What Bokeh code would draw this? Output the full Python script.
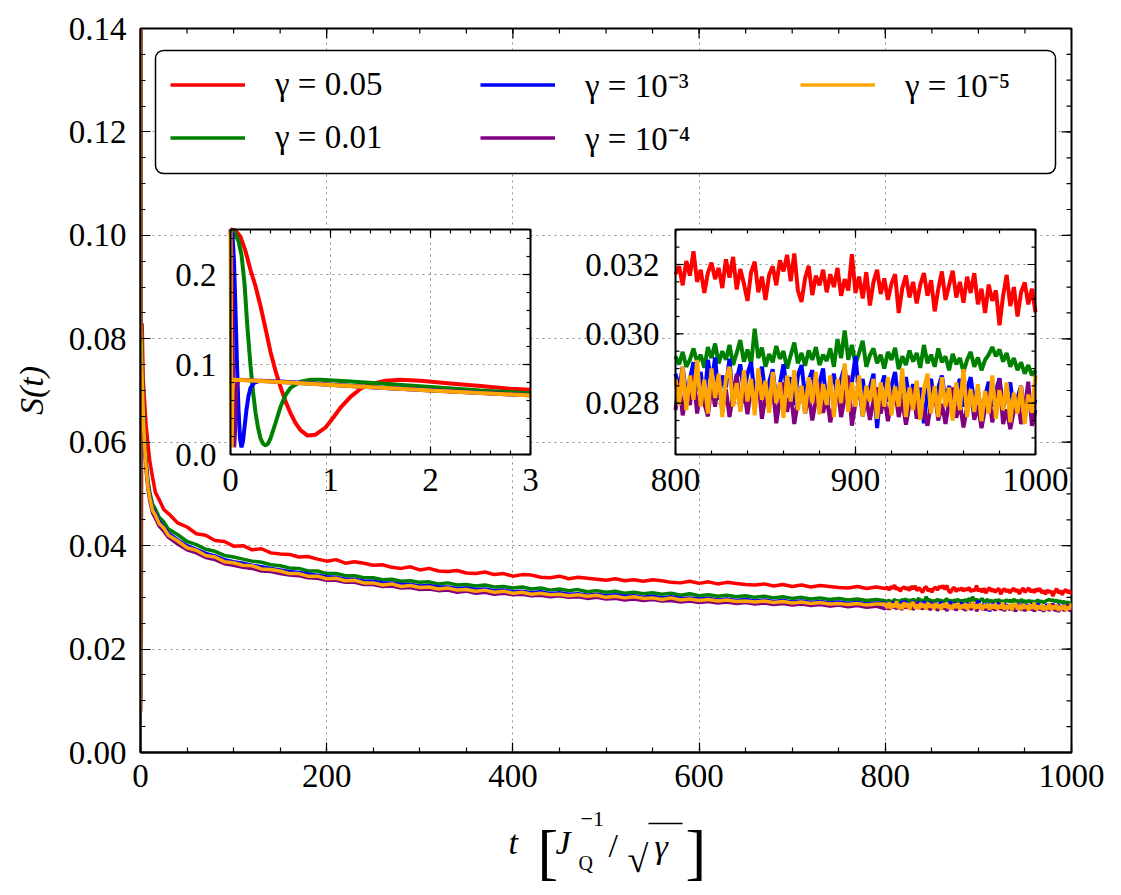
import math
from bokeh.plotting import figure
from bokeh.layouts import column
from bokeh.models import (Range1d, FixedTicker, PrintfTickFormatter, Legend, LegendItem,
                          BoxAnnotation)
from bokeh.core.properties import value
from bokeh.embed import file_html
from bokeh.resources import INLINE

# ------------------------------------------------------------------ data
LABELS = ["γ = 0.05", "γ = 0.01", "γ = 10⁻³", "γ = 10⁻⁴", "γ = 10⁻⁵"]
COLORS = ["#ff0000", "#008000", "#0000ff", "#800080", "#ffa500"]

# short-time behaviour (left inset), t in [0, 3]
t_early_005 = [0, 0.05, 0.1, 0.15, 0.2, 0.25, 0.3, 0.35, 0.4, 0.45, 0.5, 0.55, 0.6, 0.65, 0.7,
               0.77, 0.85, 0.95, 1.0, 1.1, 1.2, 1.3, 1.4, 1.55, 1.7, 1.9, 2.2, 2.5, 2.8, 3.0]
s_early_005 = [0.250, 0.249, 0.242, 0.226, 0.205, 0.187, 0.165, 0.140, 0.114, 0.093, 0.075, 0.059,
               0.046, 0.035, 0.027, 0.021, 0.022, 0.030, 0.037, 0.052, 0.064, 0.073, 0.078, 0.082,
               0.083, 0.082, 0.079, 0.076, 0.073, 0.072]
t_early_001 = [0, 0.04, 0.08, 0.11, 0.14, 0.17, 0.2, 0.225, 0.25, 0.275, 0.3, 0.325, 0.35, 0.375,
               0.4, 0.45, 0.5, 0.55, 0.6, 0.7, 0.8, 0.9, 1.2, 1.5, 2.0, 2.5, 3.0]
s_early_001 = [0.250, 0.247, 0.237, 0.222, 0.190, 0.140, 0.099, 0.070, 0.047, 0.030, 0.018, 0.012,
               0.010, 0.012, 0.018, 0.035, 0.053, 0.066, 0.074, 0.081, 0.083, 0.083, 0.081, 0.079,
               0.075, 0.071, 0.068]
t_early_1e3 = [0, 0.02, 0.035, 0.05, 0.065, 0.08, 0.095, 0.11, 0.125, 0.14, 0.16, 0.18, 0.2, 0.24,
               0.3, 0.5, 1.0, 1.5, 2.0, 2.5, 3.0]
s_early_1e3 = [0.250, 0.244, 0.215, 0.160, 0.100, 0.050, 0.018, 0.008, 0.015, 0.030, 0.050, 0.065,
               0.074, 0.080, 0.082, 0.081, 0.0776, 0.0743, 0.0713, 0.0685, 0.0658]
t_early_1e4 = [0, 0.008, 0.016, 0.024, 0.031, 0.037, 0.044, 0.052, 0.06, 0.075, 0.1, 0.5, 1.0, 1.5,
               2.0, 2.5, 3.0]
s_early_1e4 = [0.250, 0.235, 0.180, 0.100, 0.035, 0.008, 0.022, 0.055, 0.075, 0.082, 0.083, 0.0805,
               0.0774, 0.0742, 0.0712, 0.0684, 0.0657]
t_early_1e5 = [0, 0.003, 0.006, 0.009, 0.012, 0.015, 0.019, 0.025, 0.035, 0.5, 1.0, 1.5, 2.0, 2.5, 3.0]
s_early_1e5 = [0.250, 0.200, 0.110, 0.030, 0.008, 0.030, 0.068, 0.081, 0.083, 0.0805, 0.0773, 0.0741,
               0.0711, 0.0683, 0.0656]

# intermediate times, t in [4, 790]
t_mid = [4, 5, 6, 8, 10, 13, 16, 20, 25, 30, 40, 50, 60, 70, 80, 90, 100] + list(range(110, 800, 10))
s_mid_005 = [0.0690, 0.0662, 0.0633, 0.0597, 0.0563, 0.0532, 0.0503, 0.0489, 0.0470, 0.0462, 0.0444,
             0.0436, 0.0423, 0.0420, 0.0410, 0.0408, 0.0399,
             0.0400, 0.0392, 0.0394, 0.0386, 0.0384, 0.0383, 0.0378, 0.0379, 0.0374, 0.0370,
             0.0373, 0.0366, 0.0369, 0.0366, 0.0362, 0.0363, 0.0358, 0.0356, 0.0359, 0.0353,
             0.0356, 0.0351, 0.0350, 0.0352, 0.0347, 0.0346, 0.0349, 0.0344, 0.0346, 0.0341,
             0.0344, 0.0343, 0.0339, 0.0338, 0.0341, 0.0336, 0.0339, 0.0337, 0.0335, 0.0333,
             0.0336, 0.0332, 0.0334, 0.0331, 0.0334, 0.0332, 0.0329, 0.0328, 0.0331, 0.0327,
             0.0330, 0.0326, 0.0329, 0.0327, 0.0325, 0.0324, 0.0326, 0.0322, 0.0325, 0.0321,
             0.0324, 0.0320, 0.0323, 0.0321, 0.0319, 0.0318, 0.0321, 0.0317, 0.0320]
s_mid_001 = [0.0632, 0.0593, 0.0567, 0.0526, 0.0504, 0.0480, 0.0471, 0.0455, 0.0446, 0.0432, 0.0421,
             0.0408, 0.0402, 0.0393, 0.0389, 0.0381, 0.0378,
             0.0374, 0.0370, 0.0368, 0.0363, 0.0361, 0.0357, 0.0356, 0.0351, 0.0351, 0.0346,
             0.0346, 0.0342, 0.0342, 0.0338, 0.0338, 0.0334, 0.0335, 0.0331, 0.0332, 0.0329,
             0.0330, 0.0326, 0.0328, 0.0324, 0.0325, 0.0322, 0.0324, 0.0320, 0.0321, 0.0318,
             0.0320, 0.0316, 0.0318, 0.0314, 0.0316, 0.0313, 0.0315, 0.0311, 0.0313, 0.0310,
             0.0312, 0.0308, 0.0310, 0.0307, 0.0309, 0.0306, 0.0308, 0.0304, 0.0307, 0.0303,
             0.0305, 0.0302, 0.0304, 0.0301, 0.0303, 0.0300, 0.0302, 0.0299, 0.0301, 0.0298,
             0.0300, 0.0297, 0.0299, 0.0296, 0.0298, 0.0295, 0.0297, 0.0294, 0.0296]
s_mid_1e3 = [0.0620, 0.0584, 0.0556, 0.0518, 0.0495, 0.0472, 0.0462, 0.0447, 0.0436, 0.0424, 0.0411,
             0.0400, 0.0393, 0.0385, 0.0380, 0.0373, 0.0369,
             0.0366, 0.0362, 0.0359, 0.0356, 0.0353, 0.0350, 0.0348, 0.0345, 0.0343, 0.0340,
             0.0339, 0.0335, 0.0335, 0.0331, 0.0331, 0.0328, 0.0328, 0.0325, 0.0325, 0.0322,
             0.0323, 0.0320, 0.0320, 0.0317, 0.0318, 0.0315, 0.0316, 0.0313, 0.0314, 0.0311,
             0.0312, 0.0309, 0.0311, 0.0307, 0.0309, 0.0306, 0.0307, 0.0304, 0.0306, 0.0303,
             0.0305, 0.0302, 0.0303, 0.0300, 0.0302, 0.0299, 0.0301, 0.0298, 0.0299, 0.0297,
             0.0298, 0.0295, 0.0297, 0.0294, 0.0296, 0.0293, 0.0295, 0.0292, 0.0294, 0.0291,
             0.0293, 0.0290, 0.0292, 0.0289, 0.0291, 0.0288, 0.0290, 0.0287, 0.0289]
s_mid_1e4 = [0.0610, 0.0573, 0.0546, 0.0509, 0.0486, 0.0463, 0.0453, 0.0438, 0.0428, 0.0416, 0.0403,
             0.0392, 0.0386, 0.0377, 0.0373, 0.0365, 0.0362,
             0.0358, 0.0356, 0.0351, 0.0350, 0.0346, 0.0343, 0.0342, 0.0338, 0.0337, 0.0333,
             0.0333, 0.0329, 0.0329, 0.0325, 0.0325, 0.0321, 0.0322, 0.0318, 0.0319, 0.0315,
             0.0316, 0.0313, 0.0314, 0.0310, 0.0312, 0.0308, 0.0310, 0.0306, 0.0308, 0.0305,
             0.0306, 0.0303, 0.0304, 0.0301, 0.0303, 0.0300, 0.0301, 0.0298, 0.0300, 0.0297,
             0.0298, 0.0295, 0.0297, 0.0294, 0.0296, 0.0293, 0.0294, 0.0291, 0.0293, 0.0290,
             0.0292, 0.0289, 0.0291, 0.0288, 0.0290, 0.0287, 0.0289, 0.0286, 0.0288, 0.0285,
             0.0287, 0.0284, 0.0286, 0.0283, 0.0285, 0.0282, 0.0284, 0.0281, 0.0283]
s_mid_1e5 = [0.0615, 0.0578, 0.0552, 0.0513, 0.0492, 0.0468, 0.0459, 0.0443, 0.0434, 0.0420, 0.0409,
             0.0396, 0.0391, 0.0381, 0.0378, 0.0369, 0.0367,
             0.0362, 0.0361, 0.0355, 0.0354, 0.0351, 0.0346, 0.0346, 0.0341, 0.0341, 0.0336,
             0.0337, 0.0332, 0.0333, 0.0328, 0.0328, 0.0324, 0.0326, 0.0321, 0.0323, 0.0319,
             0.0320, 0.0316, 0.0318, 0.0314, 0.0315, 0.0312, 0.0314, 0.0310, 0.0312, 0.0308,
             0.0310, 0.0306, 0.0308, 0.0305, 0.0306, 0.0303, 0.0305, 0.0302, 0.0304, 0.0300,
             0.0302, 0.0299, 0.0301, 0.0298, 0.0299, 0.0296, 0.0299, 0.0295, 0.0297, 0.0294,
             0.0296, 0.0293, 0.0295, 0.0292, 0.0293, 0.0291, 0.0293, 0.0290, 0.0292, 0.0289,
             0.0291, 0.0288, 0.0290, 0.0287, 0.0288, 0.0286, 0.0288, 0.0285, 0.0287]

# long times (right inset), t in [800, 1000]
t_late = list(range(800, 1001, 2))
s_late_005 = [0.03172, 0.03195, 0.03140, 0.03210, 0.03168, 0.03238, 0.03150, 0.03185, 0.03118, 0.03176,
              0.03205, 0.03158, 0.03190, 0.03132, 0.03215, 0.03162, 0.03222, 0.03128, 0.03187, 0.03145,
              0.03095, 0.03178, 0.03208, 0.03120, 0.03165, 0.03098, 0.03170, 0.03195, 0.03140, 0.03212,
              0.03180, 0.03228, 0.03152, 0.03232, 0.03125, 0.03092, 0.03160, 0.03196, 0.03112, 0.03168,
              0.03140, 0.03185, 0.03120, 0.03172, 0.03135, 0.03190, 0.03110, 0.03158, 0.03125, 0.03230,
              0.03118, 0.03165, 0.03102, 0.03178, 0.03082, 0.03150, 0.03185, 0.03115, 0.03160, 0.03098,
              0.03145, 0.03172, 0.03060, 0.03132, 0.03168, 0.03105, 0.03150, 0.03088, 0.03142, 0.03175,
              0.03110, 0.03155, 0.03065, 0.03130, 0.03180, 0.03098, 0.03140, 0.03182, 0.03105, 0.03150,
              0.03090, 0.03165, 0.03118, 0.03175, 0.03085, 0.03130, 0.03060, 0.03142, 0.03095, 0.03125,
              0.03025, 0.03110, 0.03170, 0.03080, 0.03135, 0.03050, 0.03120, 0.03148, 0.03085, 0.03130,
              0.03062]
s_late_001 = [0.02935, 0.02912, 0.02948, 0.02905, 0.02925, 0.02958, 0.02918, 0.02940, 0.02902, 0.02962,
              0.02930, 0.02972, 0.02915, 0.02950, 0.02925, 0.02968, 0.02910, 0.02945, 0.02982, 0.02920,
              0.02955, 0.02912, 0.03015, 0.02930, 0.02960, 0.02905, 0.02942, 0.02918, 0.02965, 0.02928,
              0.02950, 0.02900, 0.02938, 0.02975, 0.02915, 0.02945, 0.02908, 0.02952, 0.02925, 0.02962,
              0.02910, 0.02940, 0.02922, 0.02958, 0.02905, 0.02985, 0.02930, 0.03010, 0.02925, 0.02968,
              0.02912, 0.02945, 0.02980, 0.02905, 0.02938, 0.02958, 0.02915, 0.02940, 0.02900, 0.02948,
              0.02925, 0.02960, 0.02898, 0.02935, 0.02910, 0.02952, 0.02920, 0.02945, 0.02902, 0.02968,
              0.02915, 0.02940, 0.02905, 0.02958, 0.02918, 0.02935, 0.02895, 0.02942, 0.02912, 0.02930,
              0.02890, 0.02925, 0.02948, 0.02905, 0.02932, 0.02895, 0.02925, 0.02940, 0.02962, 0.02935,
              0.02955, 0.02920, 0.02945, 0.02905, 0.02930, 0.02895, 0.02918, 0.02885, 0.02910, 0.02880,
              0.02895]
s_late_1e3 = [0.02885, 0.02842, 0.02905, 0.02820, 0.02870, 0.02918, 0.02835, 0.02890, 0.02800, 0.02925,
              0.02855, 0.02932, 0.02810, 0.02880, 0.02845, 0.02928, 0.02795, 0.02870, 0.02912, 0.02830,
              0.02885, 0.02918, 0.02815, 0.02870, 0.02905, 0.02825, 0.02860, 0.02898, 0.02805, 0.02855,
              0.02912, 0.02830, 0.02875, 0.02795, 0.02880, 0.02910, 0.02820, 0.02865, 0.02895, 0.02810,
              0.02858, 0.02900, 0.02790, 0.02845, 0.02885, 0.02815, 0.02870, 0.02905, 0.02800, 0.02860,
              0.02935, 0.02825, 0.02870, 0.02790, 0.02845, 0.02885, 0.02728, 0.02840, 0.02880, 0.02805,
              0.02850, 0.02890, 0.02795, 0.02838, 0.02875, 0.02810, 0.02855, 0.02780, 0.02845, 0.02742,
              0.02835, 0.02870, 0.02795, 0.02845, 0.02880, 0.02805, 0.02850, 0.02770, 0.02835, 0.02870,
              0.02790, 0.02840, 0.02875, 0.02800, 0.02835, 0.02770, 0.02820, 0.02862, 0.02790, 0.02835,
              0.02872, 0.02785, 0.02830, 0.02860, 0.02775, 0.02815, 0.02850, 0.02760, 0.02825, 0.02780,
              0.02810]
s_late_1e4 = [0.02780, 0.02860, 0.02765, 0.02830, 0.02795, 0.02880, 0.02770, 0.02845, 0.02800, 0.02762,
              0.02855, 0.02790, 0.02878, 0.02775, 0.02840, 0.02760, 0.02825, 0.02885, 0.02782, 0.02838,
              0.02768, 0.02845, 0.02795, 0.02870, 0.02755, 0.02820, 0.02790, 0.02850, 0.02742, 0.02815,
              0.02860, 0.02775, 0.02830, 0.02740, 0.02805, 0.02850, 0.02770, 0.02825, 0.02750, 0.02810,
              0.02858, 0.02772, 0.02818, 0.02745, 0.02800, 0.02845, 0.02760, 0.02815, 0.02880, 0.02735,
              0.02800, 0.02850, 0.02762, 0.02815, 0.02752, 0.02808, 0.02845, 0.02770, 0.02820, 0.02748,
              0.02805, 0.02840, 0.02760, 0.02812, 0.02738, 0.02795, 0.02842, 0.02755, 0.02810, 0.02775,
              0.02735, 0.02800, 0.02835, 0.02750, 0.02798, 0.02740, 0.02805, 0.02845, 0.02758, 0.02800,
              0.02730, 0.02790, 0.02838, 0.02752, 0.02795, 0.02728, 0.02785, 0.02830, 0.02745, 0.02790,
              0.02870, 0.02740, 0.02782, 0.02725, 0.02778, 0.02822, 0.02740, 0.02785, 0.02862, 0.02735,
              0.02780]
s_late_1e5 = [0.02870, 0.02795, 0.02905, 0.02780, 0.02880, 0.02810, 0.02925, 0.02790, 0.02868, 0.02770,
              0.02900, 0.02815, 0.02885, 0.02760, 0.02870, 0.02905, 0.02790, 0.02858, 0.02775, 0.02895,
              0.02805, 0.02870, 0.02765, 0.02900, 0.02810, 0.02865, 0.02772, 0.02890, 0.02800, 0.02860,
              0.02758, 0.02880, 0.02805, 0.02895, 0.02780, 0.02850, 0.02770, 0.02875, 0.02800, 0.02890,
              0.02768, 0.02855, 0.02795, 0.02880, 0.02760, 0.02870, 0.02800, 0.02915, 0.02775, 0.02860,
              0.02790, 0.02880, 0.02762, 0.02850, 0.02805, 0.02870, 0.02755, 0.02860, 0.02790, 0.02875,
              0.02765, 0.02848, 0.02790, 0.02900, 0.02760, 0.02845, 0.02780, 0.02865, 0.02752, 0.02840,
              0.02885, 0.02770, 0.02850, 0.02760, 0.02875, 0.02790, 0.02845, 0.02750, 0.02860, 0.02780,
              0.02898, 0.02760, 0.02840, 0.02775, 0.02855, 0.02748, 0.02835, 0.02770, 0.02880, 0.02755,
              0.02838, 0.02780, 0.02860, 0.02745, 0.02830, 0.02770, 0.02850, 0.02740, 0.02825, 0.02772,
              0.02880]

# axis ticks
X_TICKS = [0, 200, 400, 600, 800, 1000]
Y_TICKS = [0.00, 0.02, 0.04, 0.06, 0.08, 0.10, 0.12, 0.14]
IN1_X_TICKS = [0, 1, 2, 3]
IN1_X_LABELS = ["0", "1", "2", "3"]
IN1_Y_TICKS = [0.0, 0.1, 0.2]
IN1_Y_LABELS = ["0.0", "0.1", "0.2"]
IN2_X_TICKS = [800, 900, 1000]
IN2_X_LABELS = ["800", "900", "1000"]
IN2_Y_TICKS = [0.028, 0.030, 0.032]
IN2_Y_LABELS = ["0.028", "0.030", "0.032"]

early_t = [t_early_005, t_early_001, t_early_1e3, t_early_1e4, t_early_1e5]
early_s = [s_early_005, s_early_001, s_early_1e3, s_early_1e4, s_early_1e5]
mid_s = [s_mid_005, s_mid_001, s_mid_1e3, s_mid_1e4, s_mid_1e5]
late_s = [s_late_005, s_late_001, s_late_1e3, s_late_1e4, s_late_1e5]

# ------------------------------------------------------------------ layout
W, H = 1121, 895
H_MAIN = 806
FL, FR, FT, FB = 140, 1071, 28, 752
XMAX, YMAX = 1000.0, 0.14
FONT = "Liberation Serif"
TICK_FS = "33px"
GRID_COLOR = "#8c8c8c"


def px_x(px):
    return (px - FL) / (FR - FL) * XMAX


def px_y(py):
    return (FB - py) / (FB - FT) * YMAX


p = figure(width=W, height=H_MAIN, x_range=Range1d(0, XMAX), y_range=Range1d(0, YMAX),
           output_backend="svg", toolbar_location=None, title=None,
           min_border_left=FL, min_border_right=W - FR, min_border_top=FT,
           min_border_bottom=H_MAIN - FB)
p.background_fill_color = "white"
p.border_fill_color = "white"
p.outline_line_color = "black"
p.outline_line_width = 2

X_MINOR = [i * 50 for i in range(21)]
Y_MINOR = [i * 0.005 for i in range(29)]
xt = FixedTicker(ticks=X_TICKS, minor_ticks=X_MINOR)
yt = FixedTicker(ticks=Y_TICKS, minor_ticks=Y_MINOR)

xa = p.xaxis[0]
ya = p.yaxis[0]
xa.ticker = xt
ya.ticker = yt
xa.formatter = PrintfTickFormatter(format="%d")
ya.formatter = PrintfTickFormatter(format="%.2f")
for ax in (xa, ya):
    ax.axis_line_color = "black"
    ax.axis_line_width = 2
    ax.major_tick_in = 10
    ax.major_tick_out = 0
    ax.minor_tick_in = 5
    ax.minor_tick_out = 0
    ax.major_tick_line_color = "black"
    ax.minor_tick_line_color = "black"
    ax.major_tick_line_width = 1.2
    ax.minor_tick_line_width = 1.2
    ax.major_label_text_font = FONT
    ax.major_label_text_font_size = TICK_FS
    ax.major_label_text_color = "black"
    ax.major_label_standoff = 14
xa.major_label_standoff = 12
ya.axis_label = "S(t)"
ya.axis_label_text_font = FONT
ya.axis_label_text_font_style = "italic"
ya.axis_label_text_font_size = "34px"
ya.axis_label_text_color = "black"
ya.axis_label_standoff = 16

p.xgrid.ticker = xt
p.ygrid.ticker = yt
for g in (p.xgrid[0], p.ygrid[0]):
    g.grid_line_color = GRID_COLOR
    g.grid_line_dash = "2 4"
    g.grid_line_width = 1

# main curves
renderers = []
for k in range(5):
    t_all = early_t[k] + t_mid + t_late
    s_all = early_s[k] + mid_s[k] + late_s[k]
    r = p.line(t_all, s_all, line_color=COLORS[k], line_width=3.5)
    renderers.append(r)

# inward ticks on the top and right edges of the main frame
for ticks, ln in ((X_TICKS, 10), (X_MINOR, 5)):
    p.ray(x=ticks, y=[YMAX] * len(ticks), length=ln, length_units="screen",
          angle=-math.pi / 2, line_color="black", line_width=1.2)
for ticks, ln in ((Y_TICKS, 10), (Y_MINOR, 5)):
    p.ray(x=[XMAX] * len(ticks), y=ticks, length=ln, length_units="screen",
          angle=math.pi, line_color="black", line_width=1.2)


# ------------------------------------------------------------------ insets
def draw_inset(box, xr, yr, xmaj, xmin_, ymaj, ymin_, xlabels, ylabels, xs_list, ys_list,
               xlab_off, ylab_off):
    x0, y0, x1, y1 = box
    sub = p.subplot(x_source=Range1d(*xr), y_source=Range1d(*yr),
                    x_target=Range1d(px_x(x0), px_x(x1)),
                    y_target=Range1d(px_y(y1), px_y(y0)))
    sub.quad(left=[xr[0]], right=[xr[1]], bottom=[yr[0]], top=[yr[1]],
             fill_color="white", line_color=None)
    gx = [v for v in xmaj if xr[0] < v < xr[1]]
    gy = [v for v in ymaj if yr[0] < v < yr[1]]
    sub.segment(x0=gx, y0=[yr[0]] * len(gx), x1=gx, y1=[yr[1]] * len(gx),
                line_color=GRID_COLOR, line_dash="2 4", line_width=1)
    sub.segment(x0=[xr[0]] * len(gy), y0=gy, x1=[xr[1]] * len(gy), y1=gy,
                line_color=GRID_COLOR, line_dash="2 4", line_width=1)
    for k in range(5):
        sub.line(xs_list[k], ys_list[k], line_color=COLORS[k], line_width=4)
    sub.quad(left=[xr[0]], right=[xr[1]], bottom=[yr[0]], top=[yr[1]],
             fill_color=None, line_color="black", line_width=2)
    for ticks, ln in ((xmaj, 8), (xmin_, 4)):
        n = len(ticks)
        sub.ray(x=ticks, y=[yr[0]] * n, length=ln, length_units="screen",
                angle=math.pi / 2, line_color="black", line_width=1.2)
        sub.ray(x=ticks, y=[yr[1]] * n, length=ln, length_units="screen",
                angle=-math.pi / 2, line_color="black", line_width=1.2)
    for ticks, ln in ((ymaj, 8), (ymin_, 4)):
        n = len(ticks)
        sub.ray(x=[xr[0]] * n, y=ticks, length=ln, length_units="screen",
                angle=0, line_color="black", line_width=1.2)
        sub.ray(x=[xr[1]] * n, y=ticks, length=ln, length_units="screen",
                angle=math.pi, line_color="black", line_width=1.2)
    sub.text(x=xmaj, y=[yr[0]] * len(xmaj), text=xlabels, text_font=value(FONT),
             text_font_size=value(TICK_FS), text_align="center", text_baseline="top",
             y_offset=xlab_off, text_color="black")
    sub.text(x=[xr[0]] * len(ymaj), y=ymaj, text=ylabels, text_font=value(FONT),
             text_font_size=value(TICK_FS), text_align="right", text_baseline="middle",
             x_offset=ylab_off, text_color="black")


draw_inset((230, 229, 530, 454), (0, 3), (0, 0.25),
           IN1_X_TICKS, [i * 0.2 for i in range(16)],
           IN1_Y_TICKS, [i * 0.02 for i in range(13)],
           IN1_X_LABELS, IN1_Y_LABELS, early_t, early_s, 14, -14)

draw_inset((675, 229, 1035, 454), (800, 1000), (0.02652, 0.03301),
           IN2_X_TICKS, [800 + i * 20 for i in range(11)],
           IN2_Y_TICKS, [0.027 + i * 0.0005 for i in range(13)],
           IN2_X_LABELS, IN2_Y_LABELS, [t_late] * 5, late_s, 14, -16)

# ------------------------------------------------------------------ legend
box_kw = dict(left=px_x(155), right=px_x(1055), bottom=px_y(173), top=px_y(50),
              fill_color="white", fill_alpha=1.0, line_color="black", line_width=1.5,
              line_alpha=1.0)
legend_box = BoxAnnotation(**box_kw)
if "border_radius" in BoxAnnotation.properties():
    legend_box.border_radius = 8
p.add_layout(legend_box)

ITEM_H = 45
ROW_GAP = 8
LEG_TOP = 84 - ITEM_H / 2
columns = [([0, 1], 170), ([2, 3], 480), ([4], 800)]
for idx, xpos in columns:
    nrow = len(idx)
    bottom_px = LEG_TOP + nrow * ITEM_H + (nrow - 1) * ROW_GAP
    leg = Legend(items=[LegendItem(label=value(LABELS[k]), renderers=[renderers[k]]) for k in idx],
                 location=(xpos - FL, FB - bottom_px), orientation="vertical",
                 glyph_width=75, glyph_height=ITEM_H, label_height=ITEM_H, label_width=20,
                 label_standoff=30, spacing=ROW_GAP, padding=0, margin=0,
                 label_text_font=FONT, label_text_font_size="33px", label_text_color="black",
                 border_line_color=None, background_fill_color=None,
                 inactive_fill_alpha=0)
    p.add_layout(leg)

# ------------------------------------------------------------------ x axis label (composed)
H_LAB = H - H_MAIN
lab = figure(width=W, height=H_LAB, x_range=Range1d(FL, FR), y_range=Range1d(H_LAB, 0),
             output_backend="svg", toolbar_location=None, title=None,
             min_border_left=FL, min_border_right=W - FR, min_border_top=0,
             min_border_bottom=0)
lab.axis.visible = False
lab.grid.visible = False
lab.outline_line_color = None
lab.background_fill_color = "white"
lab.border_fill_color = "white"


def piece(text, cx, cy, size, style="normal"):
    lab.text(x=[cx], y=[cy - H_MAIN], text=[text], text_font=value(FONT),
             text_font_size=value(size), text_font_style=style, text_baseline="alphabetic",
             text_align="left", text_color="black")


piece("t", 508, 842, "34px", "italic")
piece("[", 537, 851, "62px")
piece("J", 555, 842, "34px", "italic")
piece("−1", 580, 818, "22px")
piece("Q", 578, 862, "20px")
piece("/", 608, 845, "34px")
piece("√", 627, 858, "38px")
piece("γ", 654, 846, "34px", "italic")
piece("]", 685, 851, "62px")
# overline of the square root
lab.segment(x0=[648], y0=[823 - H_MAIN], x1=[682], y1=[823 - H_MAIN],
            line_color="black", line_width=1.5)

layout = column(p, lab, spacing=0)
open("out.html", "w").write(file_html(layout, INLINE))
